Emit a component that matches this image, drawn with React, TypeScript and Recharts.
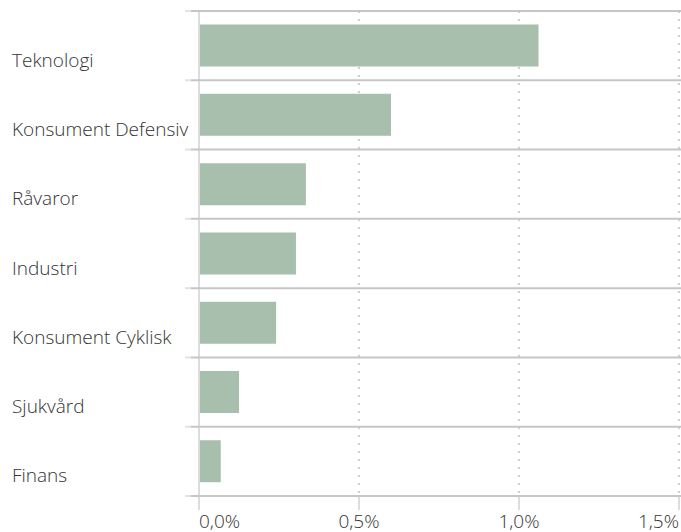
import { BarChart, Bar, XAxis, YAxis, CartesianGrid } from "recharts";

const sectors = [
  "Teknologi",
  "Konsument Defensiv",
  "Råvaror",
  "Industri",
  "Konsument Cyklisk",
  "Sjukvård",
  "Finans",
];
const weights = [1.061, 0.6, 0.334, 0.303, 0.241, 0.125, 0.068];
const xTicks = [0, 0.5, 1, 1.5];

const chartData = sectors.map((name, i) => ({ name, value: weights[i] }));

const CHART_W = 681;
const CHART_H = 532;
const FONT = "'Open Sans', 'Noto Sans', sans-serif";

// category label + band boundary lines (gray inside plot, light tick outside)
const SectorTick = (props: any) => {
  const { x, y, payload, index } = props;
  const half = payload.offset ?? 0;
  const top = payload.coordinate - half;
  const bottom = payload.coordinate + half;
  const isLast = index === sectors.length - 1;
  return (
    <g>
      <line x1={185} x2={x} y1={top} y2={top} stroke="#e2e2e2" strokeWidth={2} />
      <line x1={x} x2={CHART_W} y1={top} y2={top} stroke="#c6c6c6" strokeWidth={2} />
      {isLast && (
        <>
          <line x1={185} x2={x} y1={bottom} y2={bottom} stroke="#e2e2e2" strokeWidth={2} />
          <line x1={x} x2={CHART_W} y1={bottom} y2={bottom} stroke="#c6c6c6" strokeWidth={2} />
        </>
      )}
      <text
        x={12}
        y={y + 21}
        textAnchor="start"
        fill="#333"
        fontSize={19}
        fontWeight={300}
        fontFamily={FONT}
      >
        {payload.value}
      </text>
    </g>
  );
};

const PercentTick = (props: any) => {
  const { x, y, payload, index } = props;
  const anchor = index === 0 ? "start" : index === xTicks.length - 1 ? "end" : "middle";
  return (
    <text
      x={x}
      y={y + 16}
      textAnchor={anchor}
      fill="#333"
      fontSize={19}
      fontWeight={300}
      fontFamily={FONT}
    >
      {payload.value.toFixed(1).replace(".", ",") + "%"}
    </text>
  );
};

export default function App() {
  return (
    <div style={{ position: "absolute", left: 0, top: 0, background: "#fff" }}>
      <BarChart
        width={CHART_W}
        height={CHART_H}
        data={chartData}
        layout="vertical"
        margin={{ top: 11, right: 2, left: 0, bottom: 6 }}
        barCategoryGap="19.6%"
      >
        <CartesianGrid
          horizontal={false}
          stroke="#bdbdbd"
          strokeDasharray="2 6"
          strokeWidth={1.5}
        />
        <XAxis
          type="number"
          domain={[0, 1.5]}
          ticks={xTicks}
          height={30}
          axisLine={false}
          tickLine={{ stroke: "#dcdcdc", strokeWidth: 2 }}
          tickSize={14}
          tick={<PercentTick />}
          interval={0}
        />
        <YAxis
          type="category"
          dataKey="name"
          width={199}
          axisLine={{ stroke: "#dcdcdc", strokeWidth: 2 }}
          tickLine={false}
          tick={<SectorTick />}
          interval={0}
        />
        <Bar dataKey="value" fill="#a8bfad" isAnimationActive={false} />
      </BarChart>
    </div>
  );
}
